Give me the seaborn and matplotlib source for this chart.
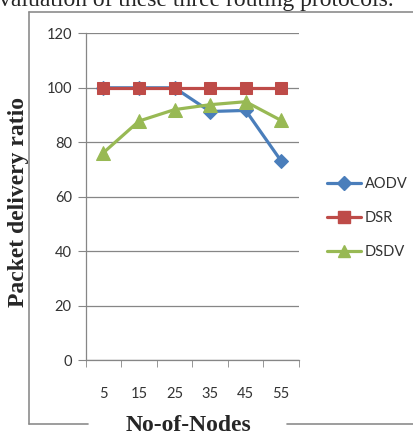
import matplotlib
matplotlib.use("Agg")
import matplotlib.pyplot as plt
import seaborn as sns
import pandas as pd
from matplotlib.lines import Line2D

nodes = ["5", "15", "25", "35", "45", "55"]
aodv = [100, 100, 100, 91.3, 91.7, 73.1]
dsr = [100, 100, 100, 100, 100, 100]
dsdv = [76.2, 87.8, 92.0, 93.8, 94.9, 88.0]
protocols = ["AODV", "DSR", "DSDV"]
colors = ["#4a7ebb", "#be4b48", "#98b954"]
markers = ["D", "s", "^"]

rows = []
for name, vals in zip(protocols, [aodv, dsr, dsdv]):
    for n, v in zip(nodes, vals):
        rows.append({"nodes": n, "pdr": v, "protocol": name})
df = pd.DataFrame(rows)

sns.set_style("white")
plt.rcParams["font.family"] = ["Lato", "DejaVu Sans"]

W, H = 414, 436
fig = plt.figure(figsize=(W / 100, H / 100), dpi=100)
ax = fig.add_axes([85.7 / W, 1 - 360.3 / H, 213.3 / W, 327 / H])
ax.patch.set_alpha(0)

# outer frame (chart area border), bottom edge interrupted by the x title
def fline(xs, ys):
    fig.add_artist(Line2D([x / W for x in xs], [1 - y / H for y in ys],
                          transform=fig.transFigure, color="#8c8c8c",
                          linewidth=1.2, zorder=-5))
fline([29, 29], [424, 12])
fline([29, W + 2], [12, 12])
fline([29, 88], [424, 424])
fline([287, W + 2], [424, 424])

sizes = {"AODV": 7.5, "DSR": 9, "DSDV": 9.5}
for name, col, mk in zip(protocols, colors, markers):
    sub = df[df["protocol"] == name]
    sns.lineplot(data=sub, x="nodes", y="pdr", ax=ax, color=col, marker=mk,
                 markersize=sizes[name], markeredgecolor=col, linewidth=2.3,
                 label=name, sort=False)

ax.set_xlim(-0.5, 5.5)
ax.set_ylim(0, 120)
ax.set_yticks(range(0, 121, 20))
ax.grid(axis="y", color="#868686", linewidth=0.9)
ax.grid(axis="x", visible=False)
for s in ["top", "right"]:
    ax.spines[s].set_visible(False)
for s in ["left", "bottom"]:
    ax.spines[s].set_color("#868686")
    ax.spines[s].set_linewidth(0.9)
ax.set_xticks([x - 0.5 for x in range(7)], minor=True)
ax.tick_params(axis="x", which="minor", length=5, color="#868686", direction="out", bottom=True)
ax.tick_params(axis="x", which="major", length=0, pad=19, labelsize=10.5, labelcolor="#333333")
ax.tick_params(axis="y", length=6, color="#868686", direction="out", left=True, pad=4,
               labelsize=10.5, labelcolor="#333333")

ax.set_xlabel("No-of-Nodes", family="Liberation Serif", fontweight="bold", fontsize=17)
ax.xaxis.set_label_coords(0.48, -0.198)
ax.xaxis.label.set_va("center")
ax.set_ylabel("Packet delivery ratio", family="Liberation Serif", fontweight="bold", fontsize=17)
ax.yaxis.set_label_coords(-0.317, 0.484)
ax.yaxis.label.set_va("center")

handles = [Line2D([], [], color=c, marker=m, markersize=sizes[n] * 0.9, linewidth=2.3)
           for n, c, m in zip(protocols, colors, markers)]
ax.legend(handles, protocols, loc="center left", bbox_to_anchor=(1.07, 0.435), frameon=False,
          fontsize=10.5, handlelength=2.3, handletextpad=0.3, labelspacing=1.4,
          labelcolor="#333333")

fig.text(-1 / W, 1 - 6 / H, "valuation of these three routing protocols.",
         family="Liberation Serif", fontsize=17, ha="left", va="baseline")

fig.savefig("out.png", dpi=100)
